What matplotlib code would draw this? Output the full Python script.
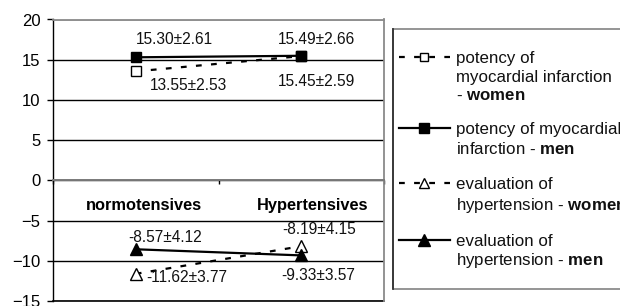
import matplotlib
matplotlib.use('Agg')
import matplotlib.pyplot as plt
from matplotlib.lines import Line2D
from matplotlib.patches import Rectangle

plt.rcParams['font.family'] = ['Liberation Sans', 'DejaVu Sans']
plt.rcParams['mathtext.fontset'] = 'custom'
plt.rcParams['mathtext.rm'] = 'Liberation Sans'
plt.rcParams['mathtext.bf'] = 'Liberation Sans:bold'
plt.rcParams['mathtext.it'] = 'Liberation Sans:italic'

# ---- data ----
categories = ['normotensives', 'Hypertensives']
potency_women = [13.55, 15.45]
potency_women_sd = [2.53, 2.59]
potency_men = [15.30, 15.49]
potency_men_sd = [2.61, 2.66]
hyper_women = [-11.62, -8.19]
hyper_women_sd = [3.77, 4.15]
hyper_men = [-8.57, -9.33]
hyper_men_sd = [4.12, 3.57]
yticks = [20, 15, 10, 5, 0, -5, -10, -15]

legend_labels = [
    ['potency of', 'myocardial infarction', r'- $\mathbf{women}$'],
    ['potency of myocardial', r'infarction - $\mathbf{men}$'],
    ['evaluation of', r'hypertension - $\mathbf{women}$'],
    ['evaluation of', r'hypertension - $\mathbf{men}$'],
]

W, H = 620, 306
fig = plt.figure(figsize=(W / 100, H / 100), dpi=100)


def fx(p):
    return p / W


def fy(p):
    return 1 - p / H


ax = fig.add_axes([fx(53), fy(301), fx(384) - fx(53), fy(19.5) - fy(301)])
ax.set_xlim(-0.5, 1.5)
ax.set_ylim(-15, 20)
x = list(range(len(categories)))

dash = (2.6, 4.2)
women_style = dict(color='black', lw=1.6, dashes=dash)
men_style = dict(color='black', lw=1.6)

ax.plot(x, potency_women, **women_style, marker='s', ms=6.5, mfc='white',
        mec='black', mew=1.0, zorder=4)
ax.plot(x, potency_men, **men_style, marker='s', ms=7.5, mfc='black',
        mec='black', zorder=5)
ax.plot(x, hyper_women, **women_style, marker='^', ms=8, mfc='white',
        mec='black', mew=1.0, zorder=4)
ax.plot(x, hyper_men, **men_style, marker='^', ms=8.5, mfc='black',
        mec='black', zorder=5)

# value annotations (offsets in pixels)
ann = [
    (potency_men, potency_men_sd, [(39, 18), (15.5, 16.6)]),
    (potency_women, potency_women_sd, [(53, -14), (15, -25)]),
    (hyper_men, hyper_men_sd, [(29.5, 11.8), (17, -20)]),
    (hyper_women, hyper_women_sd, [(51, -3.7), (18, 16.8)]),
]
for vals, sds, offs in ann:
    for i, (v, s, o) in enumerate(zip(vals, sds, offs)):
        ax.annotate(f'{v:.2f}\u00b1{s:.2f}', xy=(i, v), xytext=o,
                    textcoords='offset pixels', ha='center', va='center',
                    fontsize=11.2, color='#111111', zorder=6)

# category labels inside plot
cat_offs = [(8, -25), (11.5, -25)]
for i, (c, o) in enumerate(zip(categories, cat_offs)):
    ax.annotate(c, xy=(i, 0), xytext=o, textcoords='offset pixels',
                ha='center', va='center', fontsize=11.8, fontweight='bold')

# axes styling
ax.set_yticks(yticks)
ax.tick_params(axis='y', direction='out', length=4.3, width=1, pad=4.8,
               labelsize=12, color='black')
ax.grid(axis='y', color='black', lw=1)
ax.set_axisbelow(True)
ax.axhline(yticks[-1], color='black', lw=1.2, clip_on=False, zorder=1)

ax.spines['bottom'].set_position(('data', 0))
ax.spines['bottom'].set_color('#7a7a7a')
ax.spines['bottom'].set_linewidth(1.4)
ax.spines['top'].set_color('#8a8a8a')
ax.spines['top'].set_linewidth(1.3)
ax.spines['right'].set_color('#8a8a8a')
ax.spines['right'].set_linewidth(1.3)
ax.spines['left'].set_color('black')
ax.spines['left'].set_linewidth(1.0)
ax.set_xticks([-0.5, 0.5, 1.5])
ax.set_xticklabels([])
ax.tick_params(axis='x', direction='out', length=3, width=1, color='black')

# ---- manual legend ----
rect = Rectangle((fx(393), fy(289)), fx(660) - fx(393), fy(29) - fy(289),
                 transform=fig.transFigure, fill=False, edgecolor='#8c8c8c',
                 lw=1.3, clip_on=False)
fig.add_artist(rect)
fig.add_artist(Line2D([fx(393), fx(393)], [fy(29), fy(289)],
                      transform=fig.transFigure, color='#333333', lw=1.3))

handle_specs = [
    (women_style, 's', 'white', 6, 57, [57, 76, 94]),
    (men_style, 's', 'black', 7, 128, [128, 148]),
    (women_style, '^', 'white', 7, 183, [183, 204]),
    (men_style, '^', 'black', 8, 240, [240, 259]),
]
for (style, mk, mfc, ms, hy, ly), labels in zip(handle_specs, legend_labels):
    fig.add_artist(Line2D([fx(399), fx(450)], [fy(hy), fy(hy)],
                          transform=fig.transFigure, **style))
    fig.add_artist(Line2D([fx(424)], [fy(hy)], transform=fig.transFigure,
                          marker=mk, ms=ms, mfc=mfc, mec='black', mew=1.0,
                          ls='none'))
    for t, yy in zip(labels, ly):
        fig.text(fx(456), fy(yy + 5.8), t, fontsize=12.2, va='baseline',
                 ha='left', color='#111111')

fig.savefig('out.png', dpi=100)
